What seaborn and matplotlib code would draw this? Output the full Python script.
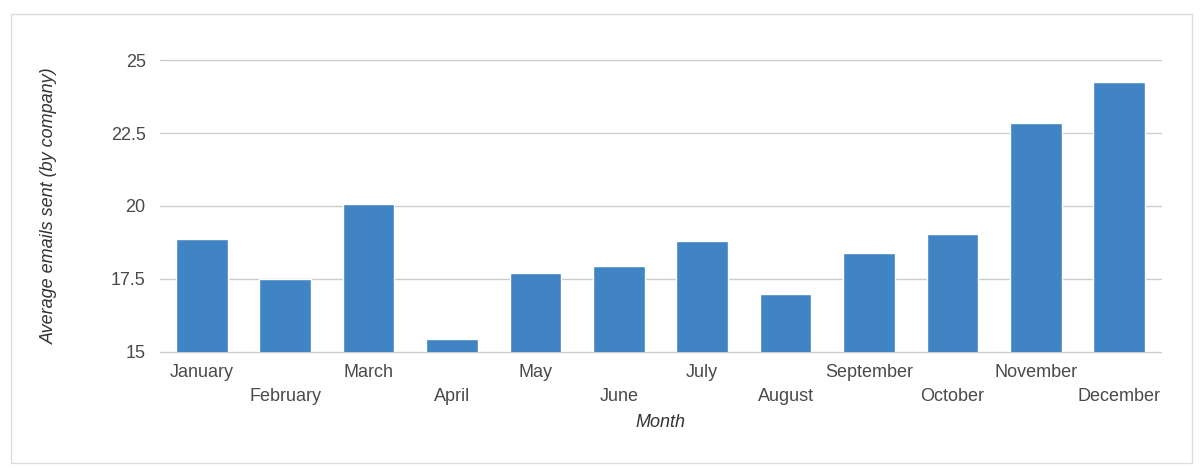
import matplotlib
matplotlib.use("Agg")
import matplotlib.pyplot as plt
from matplotlib.patches import Rectangle
import pandas as pd
import seaborn as sns

# values
months = ["January", "February", "March", "April", "May", "June",
          "July", "August", "September", "October", "November", "December"]
avg_emails = [18.87, 17.48, 20.06, 15.45, 17.69, 17.95,
              18.79, 16.99, 18.39, 19.05, 22.86, 24.26]
y_ticks = [15, 17.5, 20, 22.5, 25]
y_tick_labels = ["15", "17.5", "20", "22.5", "25"]

df = pd.DataFrame({"Month": months, "Emails": avg_emails})

sns.set_style("white")
plt.rcParams["font.family"] = ["Liberation Sans", "DejaVu Sans"]

fig = plt.figure(figsize=(12, 4.74), dpi=100)
ax = fig.add_axes([160 / 1200, 1 - 351.7 / 474, 1001 / 1200, 291.4 / 474])

sns.barplot(data=df, x="Month", y="Emails", color="#4084c4",
            saturation=1, width=0.62, ax=ax)

ax.set_ylim(15, 25)
ax.set_yticks(y_ticks)
ax.set_yticklabels(y_tick_labels)
ax.set_axisbelow(True)
ax.yaxis.grid(True, color="#cccccc", linewidth=1)
for gl in ax.get_ygridlines():
    gl.set_clip_on(False)
ax.xaxis.grid(False)
for s in ax.spines.values():
    s.set_visible(False)

ax.tick_params(axis="both", length=0, labelsize=13, labelcolor="#4a4a4a")
ax.tick_params(axis="y", pad=10.3)

# stagger the month labels on two rows
for i, t in enumerate(ax.xaxis.get_major_ticks()):
    t.set_pad(9.2 if i % 2 == 0 else 25.8)

ax.set_xlabel("Month", fontsize=13, style="italic", color="#333333")
ax.set_ylabel("Average emails sent (by company)", fontsize=13,
              style="italic", color="#333333")
ax.xaxis.set_label_coords(0.5, -0.215)
ax.yaxis.set_label_coords(-0.102, 0.5)

# light frame around the whole chart
fig.patches.append(Rectangle((11 / 1200, 1 - 463 / 474), 1181 / 1200, 449 / 474,
                             transform=fig.transFigure, fill=False,
                             edgecolor="#dddddd", linewidth=1))

fig.savefig("out.png", dpi=100, facecolor="white")
